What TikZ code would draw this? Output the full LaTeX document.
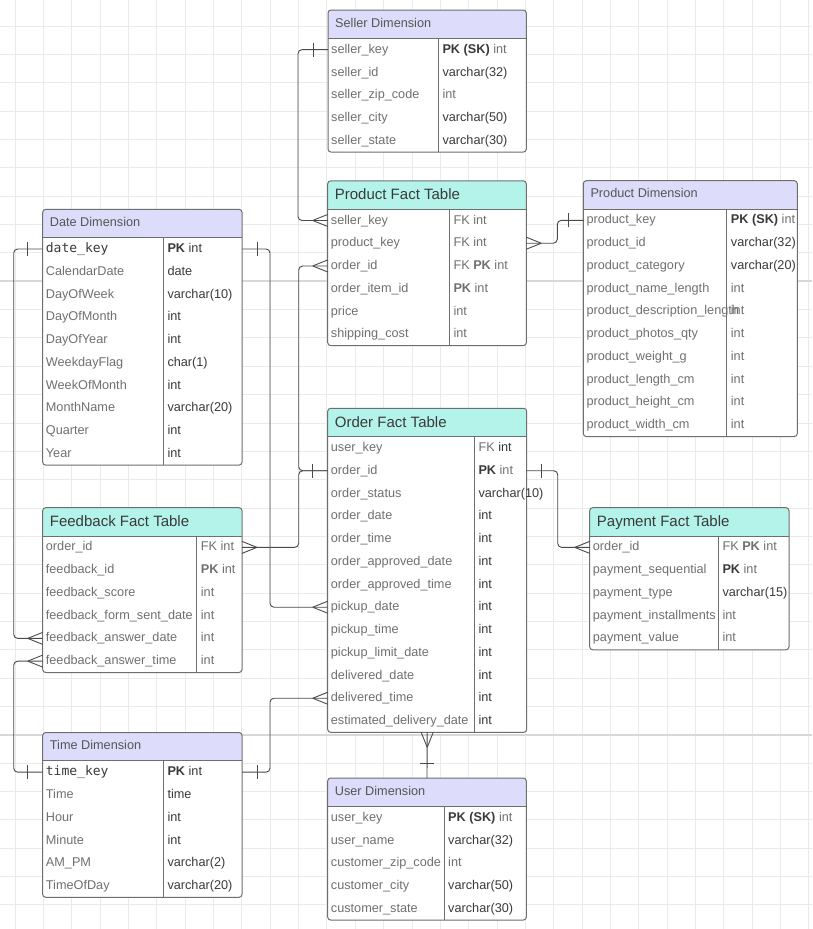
\documentclass[tikz,border=0pt]{standalone}
\usepackage{fontspec}
\setmainfont{Liberation Sans}
\newfontfamily\erMono{DejaVu Sans Mono}
\usetikzlibrary{calc}

\definecolor{gridminor}{HTML}{EAEAEA}
\definecolor{gridmajor}{HTML}{D8D8D8}
\definecolor{dimfill}{HTML}{DDDDFB}
\definecolor{factfill}{HTML}{B4F3EA}
\definecolor{framecol}{HTML}{6E6E6E}
\definecolor{txtgray}{HTML}{707070}
\definecolor{txtdark}{HTML}{3A3A3A}
\definecolor{titlegray}{HTML}{555555}
\definecolor{linkcol}{HTML}{4A4A4A}

\tikzset{
  rowbox/.style={inner sep=0pt, outer sep=0pt, minimum height=22.75pt},
  headbox/.style={inner sep=0pt, outer sep=0pt, minimum height=28.3pt},
  fieldtxt/.style={inner sep=0pt, anchor=west, text=txtgray, text height=10pt, text depth=2.8pt,
    font=\fontsize{12.7}{15}\selectfont},
  dimtitle/.style={inner sep=0pt, anchor=west, text=titlegray, text height=9pt, text depth=2.8pt,
    font=\fontsize{12.7}{15}\selectfont},
  facttitle/.style={inner sep=0pt, anchor=west, text=txtdark, text height=12pt, text depth=2pt,
    font=\fontsize{15}{18}\selectfont},
  frame/.style={draw=framecol, line width=1pt},
  rel/.style={draw=linkcol, line width=0.9pt, rounded corners=4pt},
  relmark/.style={draw=linkcol, line width=0.9pt},
}

\newcommand\dk[1]{\textcolor{txtdark}{#1}}
\newcommand\mono[1]{{\erMono\fontsize{13}{15}\selectfont\color{txtdark}#1}}

% #1 name, #2 header fill, #3 title style, #4 title, #5 left, #6 top,
% #7 width, #8 column divider offset, #9 rows as field/type pairs
\newcommand\ertable[9]{%
  \node[headbox, minimum width=#7pt, anchor=north west] (#1) at (#5,#6) {};
  \foreach [count=\i] \f/\t in {#9} {
    \node[rowbox, minimum width=#7pt, anchor=north west] (#1-\i)
      at ($(#1.south west)+(0,{(\i-1)*22.75})$) {};
    \xdef\erlast{\i}
  }
  \begin{scope}
    \clip[rounded corners=3pt] (#1.north west) rectangle (#1-\erlast.south east);
    \fill[white] (#1.north west) rectangle (#1-\erlast.south east);
    \fill[#2] (#1.north west) rectangle (#1.south east);
  \end{scope}
  \draw[frame] (#1.south west) -- (#1.south east);
  \draw[frame] ([xshift=#8pt]#1-1.north west) -- ([xshift=#8pt]#1-\erlast.south west);
  \draw[frame, rounded corners=3pt] (#1.north west) rectangle (#1-\erlast.south east);
  \node[#3] at ([xshift=7pt]#1.west) {#4};
  \foreach [count=\i] \f/\t in {#9} {
    \node[fieldtxt] at ([xshift=3pt]#1-\i.west) {\f};
    \node[fieldtxt] at ([xshift=#8pt+4pt]#1-\i.west) {\t};
  }
}

% relationship end marks
\newcommand\crowW[1]{\draw[relmark] ([xshift=-15pt]#1) -- ([yshift=6pt]#1) ([xshift=-15pt]#1) -- ([yshift=-6pt]#1);}
\newcommand\crowE[1]{\draw[relmark] ([xshift=15pt]#1) -- ([yshift=6pt]#1) ([xshift=15pt]#1) -- ([yshift=-6pt]#1);}
\newcommand\crowS[1]{\draw[relmark] ([yshift=-15pt]#1) -- ([xshift=6pt]#1) ([yshift=-15pt]#1) -- ([xshift=-6pt]#1);}
\newcommand\tickW[1]{\draw[relmark] ([xshift=-15pt,yshift=7pt]#1) -- ([xshift=-15pt,yshift=-7pt]#1);}
\newcommand\tickE[1]{\draw[relmark] ([xshift=15pt,yshift=7pt]#1) -- ([xshift=15pt,yshift=-7pt]#1);}
\newcommand\tickN[1]{\draw[relmark] ([yshift=15pt,xshift=-7pt]#1) -- ([yshift=15pt,xshift=7pt]#1);}

\begin{document}
\catcode`\_=12
\begin{tikzpicture}[x=1pt, y=-1pt]
  \useasboundingbox (0,0) rectangle (812,929);
  \fill[white] (0,0) rectangle (812,929);

  % background grid
  \foreach \k in {0,...,28}
    \draw[gridminor, line width=0.8pt] ({15+28.35*\k},0) -- ({15+28.35*\k},929);
  \foreach \k in {0,...,31}
    \draw[gridminor, line width=0.8pt] (0,{26+28.35*\k}) -- (812,{26+28.35*\k});
  \draw[gridmajor, line width=2.2pt] (0,281.2) -- (812,281.2);
  \draw[gridmajor, line width=2.2pt] (0,734.6) -- (812,734.6);

  % tables
  \ertable{seller}{dimfill}{dimtitle}{Seller Dimension}{328}{10}{198.3}{110.3}{%
    seller_key/{\dk{\textbf{PK (SK)}} int},
    seller_id/{\dk{varchar(32)}},
    seller_zip_code/int,
    seller_city/{\dk{varchar(50)}},
    seller_state/{\dk{varchar(30)}}}

  \ertable{prodf}{factfill}{facttitle}{Product Fact Table}{327.7}{180.8}{198.6}{121.6}{%
    seller_key/FK int,
    product_key/FK int,
    order_id/{FK \textbf{PK} int},
    order_item_id/{\textbf{PK} int},
    price/int,
    shipping_cost/int}

  \ertable{prodd}{dimfill}{dimtitle}{Product Dimension}{583.3}{180.7}{214}{143.4}{%
    product_key/{\dk{\textbf{PK (SK)}} int},
    product_id/{\dk{varchar(32)}},
    product_category/{\dk{varchar(20)}},
    product_name_length/int,
    product_description_length/int,
    product_photos_qty/int,
    product_weight_g/int,
    product_length_cm/int,
    product_height_cm/int,
    product_width_cm/int}

  \ertable{date}{dimfill}{dimtitle}{Date Dimension}{42.7}{209.3}{199.3}{120.6}{%
    {\mono{date_key}}/{\dk{\textbf{PK} int}},
    CalendarDate/{\dk{date}},
    DayOfWeek/{\dk{varchar(10)}},
    DayOfMonth/{\dk{int}},
    DayOfYear/{\dk{int}},
    WeekdayFlag/{\dk{char(1)}},
    WeekOfMonth/{\dk{int}},
    MonthName/{\dk{varchar(20)}},
    Quarter/{\dk{int}},
    Year/{\dk{int}}}

  \ertable{feed}{factfill}{facttitle}{Feedback Fact Table}{42.7}{507.7}{199.3}{154}{%
    order_id/FK int,
    feedback_id/{\textbf{PK} int},
    feedback_score/int,
    feedback_form_sent_date/int,
    feedback_answer_date/int,
    feedback_answer_time/int}

  \ertable{orderf}{factfill}{facttitle}{Order Fact Table}{327.7}{408.3}{199}{146.6}{%
    user_key/{FK \dk{int}},
    order_id/{\dk{\textbf{PK}} int},
    order_status/{\dk{varchar(10)}},
    order_date/{\dk{int}},
    order_time/{\dk{int}},
    order_approved_date/{\dk{int}},
    order_approved_time/{\dk{int}},
    pickup_date/{\dk{int}},
    pickup_time/{\dk{int}},
    pickup_limit_date/{\dk{int}},
    delivered_date/{\dk{int}},
    delivered_time/{\dk{int}},
    estimated_delivery_date/{\dk{int}}}

  \ertable{pay}{factfill}{facttitle}{Payment Fact Table}{589.7}{507.7}{199.3}{128.6}{%
    order_id/{FK \textbf{PK} int},
    payment_sequential/{\dk{\textbf{PK}} int},
    payment_type/{\dk{varchar(15)}},
    payment_installments/int,
    payment_value/int}

  \ertable{time}{dimfill}{dimtitle}{Time Dimension}{42.7}{732.5}{199.3}{120.6}{%
    {\mono{time_key}}/{\dk{\textbf{PK} int}},
    Time/{\dk{time}},
    Hour/{\dk{int}},
    Minute/{\dk{int}},
    AM_PM/{\dk{varchar(2)}},
    TimeOfDay/{\dk{varchar(20)}}}

  \ertable{user}{dimfill}{dimtitle}{User Dimension}{327.7}{778}{198.6}{116.3}{%
    user_key/{\dk{\textbf{PK (SK)}} int},
    user_name/{\dk{varchar(32)}},
    customer_zip_code/int,
    customer_city/{\dk{varchar(50)}},
    customer_state/{\dk{varchar(30)}}}

  % relationships
  \draw[rel] (seller-1.west) -- ++(-30,0) |- (prodf-1.west);
  \tickW{seller-1.west} \crowW{prodf-1.west}

  \draw[rel] (prodd-1.west) -- ++(-26,0) |- (prodf-2.east);
  \tickW{prodd-1.west} \crowE{prodf-2.east}

  \draw[rel] (orderf-2.west) -- ++(-29,0) |- (prodf-3.west);
  \draw[rel] (orderf-2.west) -- ++(-29,0) |- (feed-1.east);
  \tickW{orderf-2.west} \crowW{prodf-3.west} \crowE{feed-1.east}

  \draw[rel] (date-1.west) -- ++(-29,0) |- (feed-5.west);
  \tickW{date-1.west} \crowW{feed-5.west}

  \draw[rel] (date-1.east) -- ++(28,0) |- (orderf-8.west);
  \tickE{date-1.east} \crowW{orderf-8.west}

  \draw[rel] (time-1.west) -- ++(-29,0) |- (feed-6.west);
  \tickW{time-1.west} \crowW{feed-6.west}

  \draw[rel] (time-1.east) -- ++(28,0) |- (orderf-12.west);
  \tickE{time-1.east} \crowW{orderf-12.west}

  \draw[rel] (orderf-2.east) -- ++(31,0) |- (pay-1.west);
  \tickE{orderf-2.east} \crowW{pay-1.west}

  \draw[rel] (orderf-13.south) -- (user.north);
  \crowS{orderf-13.south} \tickN{user.north}
\end{tikzpicture}
\end{document}
